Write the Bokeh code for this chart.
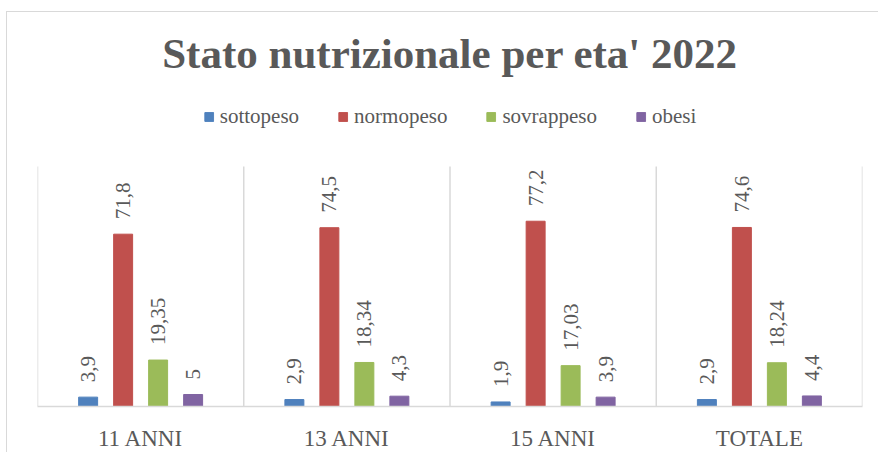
import math
from bokeh.plotting import figure
from bokeh.models import ColumnDataSource, Legend, LegendItem, FactorRange, Label
from bokeh.transform import dodge
from bokeh.core.properties import value
from bokeh.embed import file_html
from bokeh.resources import INLINE

title_text = "Stato nutrizionale per eta' 2022"
categories = ["11 ANNI", "13 ANNI", "15 ANNI", "TOTALE"]
series_names = ["sottopeso", "normopeso", "sovrappeso", "obesi"]
sottopeso = [3.9, 2.9, 1.9, 2.9]
normopeso = [71.8, 74.5, 77.2, 74.6]
sovrappeso = [19.35, 18.34, 17.03, 18.24]
obesi = [5, 4.3, 3.9, 4.4]
colors = ["#4F81BD", "#C0504D", "#9BBB59", "#8064A2"]

series_values = [sottopeso, normopeso, sovrappeso, obesi]

FONT = "Liberation Serif"
TXT = "#595959"
GRID = "#d9d9d9"

# layout (pixels inside the figure canvas)
W, H = 872, 441
BASE_PX = 394      # y of value 0
TOP100_PX = 154    # y of value 100
TITLE_PX = 41      # title baseline
LEGEND_TOP_PX = 92
PX_PER_UNIT = (BASE_PX - TOP100_PX) / 100.0
Y_END = 100 + TOP100_PX / PX_PER_UNIT


def fmt(v):
    return f"{v:g}".replace(".", ",")


p = figure(width=W, height=H, output_backend="svg", toolbar_location=None,
           x_range=FactorRange(*categories), y_range=(0, Y_END),
           min_border_left=30, min_border_right=17, min_border_top=0,
           min_border_bottom=H - BASE_PX)
p.styles = {"border-left": "1px solid #d9d9d9", "border-top": "1px solid #d9d9d9",
            "margin-top": "11px", "margin-left": "6px"}

p.outline_line_color = None
p.xgrid.visible = False
p.ygrid.visible = False
p.yaxis.visible = False

p.xaxis.axis_line_color = GRID
p.xaxis.axis_line_width = 1.5
p.xaxis.major_tick_line_color = None
p.xaxis.minor_tick_line_color = None
p.xaxis.major_label_text_font = FONT
p.xaxis.major_label_text_font_size = "23px"
p.xaxis.major_label_text_color = TXT
p.xaxis.major_label_standoff = 13

# category separators
sep_src = ColumnDataSource(dict(cat=categories, y0=[0] * 4, y1=[100] * 4))
p.segment(x0=dodge("cat", -0.5, range=p.x_range), y0="y0",
          x1=dodge("cat", -0.5, range=p.x_range), y1="y1",
          source=sep_src, line_color=GRID, line_width=1.5)
end_src = ColumnDataSource(dict(cat=categories[-1:], y0=[0], y1=[100]))
p.segment(x0=dodge("cat", 0.5, range=p.x_range), y0="y0",
          x1=dodge("cat", 0.5, range=p.x_range), y1="y1",
          source=end_src, line_color=GRID, line_width=1.5)

offsets = [-0.2545, -0.0848, 0.0848, 0.2545]
items = []
for name, vals, col, off in zip(series_names, series_values, colors, offsets):
    src = ColumnDataSource(dict(cat=categories, v=vals, lab=[fmt(v) for v in vals]))
    r = p.vbar(x=dodge("cat", off, range=p.x_range), top="v", width=0.092,
               source=src, fill_color=col, line_color=col)
    p.text(x=dodge("cat", off, range=p.x_range), y="v", text="lab", source=src,
           angle=math.pi / 2, text_align="left", text_baseline="middle",
           y_offset=-15, text_font_size="21px", text_color=TXT,
           text_font=value(FONT))
    items.append(LegendItem(label=name, renderers=[r]))

legend = Legend(items=items, orientation="horizontal", location="top_center",
                glyph_width=11, glyph_height=11, label_standoff=6, spacing=38,
                label_text_font=FONT, label_text_font_size="21px",
                label_text_color=TXT, border_line_color=None,
                background_fill_alpha=0, padding=0, margin=LEGEND_TOP_PX)
p.add_layout(legend, "center")

title = Label(x=len(categories) / 2, y=(BASE_PX - TITLE_PX) / PX_PER_UNIT,
              text=title_text, text_align="center", text_baseline="alphabetic",
              text_font=FONT, text_font_style="bold", text_font_size="43px",
              text_color=TXT)
p.add_layout(title)

open("out.html", "w").write(file_html(p, INLINE))
